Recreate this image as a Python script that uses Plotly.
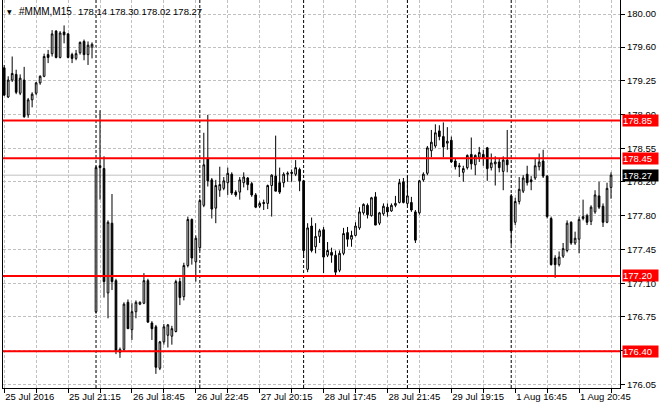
import plotly.graph_objects as go

# 3M (#MMM) M15 bars, 25 Jul 2016 17:15 .. 1 Aug 2016 22:45
opens = [179.41, 179.10, 179.28, 179.34, 179.14, 179.28, 178.91, 179.07, 179.14, 179.25,
         179.32, 179.55, 179.56, 179.80, 179.52, 179.79, 179.77, 179.55, 179.51, 179.57,
         179.69, 179.55, 179.63, 176.82, 178.37, 178.34, 177.02, 177.76, 177.15, 176.39,
         176.42, 176.92, 176.63, 176.82, 176.90, 176.91, 177.15, 176.70, 176.66, 176.22,
         176.50, 176.57, 176.56, 176.61, 177.14, 176.98, 177.31, 177.80, 177.35, 177.50,
         177.95, 178.45, 178.22, 177.92, 178.11, 178.13, 178.19, 178.28, 178.09, 178.09,
         178.19, 178.24, 178.18, 178.06, 177.94, 177.98, 177.97, 178.16, 178.26, 178.19,
         178.19, 178.28, 178.30, 178.28, 178.33, 178.21, 177.27, 177.73, 177.51, 177.62,
         177.69, 177.42, 177.45, 177.42, 177.26, 177.44, 177.66, 177.59, 177.63, 177.71,
         177.87, 177.95, 177.84, 178.04, 177.76, 177.86, 177.93, 177.89, 177.95, 177.98,
         178.20, 177.97, 177.98, 177.88, 177.87, 178.22, 178.29, 178.53, 178.58, 178.74,
         178.68, 178.61, 178.64, 178.42, 178.37, 178.30, 178.35, 178.49, 178.38, 178.46,
         178.49, 178.56, 178.35, 178.39, 178.41, 178.31, 178.43, 178.05, 177.77, 177.99,
         178.10, 178.28, 178.22, 178.24, 178.36, 178.42, 178.26, 177.81, 177.39, 177.32,
         177.41, 177.47, 177.77, 177.55, 177.59, 177.81, 177.84, 177.78, 177.88, 178.05,
         177.94, 177.77, 178.14]
highs = [179.44, 179.32, 179.53, 179.39, 179.34, 179.42, 179.09, 179.15, 179.26, 179.33,
         179.56, 179.60, 179.81, 179.81, 179.80, 179.86, 179.78, 179.57, 179.60, 179.69,
         179.71, 179.69, 179.68, 178.37, 178.96, 178.47, 177.79, 178.07, 177.17, 176.44,
         176.92, 176.95, 176.91, 176.94, 176.93, 177.23, 177.17, 176.72, 176.68, 176.51,
         176.69, 176.69, 176.67, 177.16, 177.18, 177.34, 177.83, 177.81, 177.63, 178.02,
         178.72, 178.91, 178.24, 178.22, 178.36, 178.25, 178.35, 178.30, 178.11, 178.25,
         178.30, 178.25, 178.20, 178.08, 177.99, 178.01, 178.17, 178.28, 178.69, 178.35,
         178.30, 178.31, 178.33, 178.43, 178.35, 178.22, 177.76, 177.82, 177.76, 177.70,
         177.72, 177.56, 177.50, 177.47, 177.47, 177.71, 177.72, 177.68, 177.77, 177.93,
         177.97, 177.97, 178.04, 178.09, 177.88, 177.97, 177.97, 177.97, 178.05, 178.23,
         178.24, 178.26, 178.04, 177.90, 178.22, 178.30, 178.58, 178.75, 178.81, 178.80,
         178.83, 178.78, 178.68, 178.45, 178.40, 178.37, 178.49, 178.67, 178.49, 178.57,
         178.54, 178.57, 178.50, 178.47, 178.45, 178.47, 178.75, 178.07, 178.03, 178.25,
         178.27, 178.37, 178.26, 178.45, 178.50, 178.54, 178.27, 177.83, 177.42, 177.46,
         177.55, 177.79, 177.78, 177.67, 177.83, 178.01, 177.86, 177.95, 178.11, 178.20,
         177.97, 178.19, 178.30]
lows = [179.11, 179.09, 179.26, 179.13, 179.12, 178.88, 178.88, 178.99, 179.12, 179.23,
        179.31, 179.46, 179.53, 179.51, 179.51, 179.67, 179.51, 179.46, 179.49, 179.55,
        179.49, 179.44, 179.51, 176.80, 178.01, 176.97, 176.75, 177.05, 176.37, 176.33,
        176.41, 176.64, 176.52, 176.75, 176.89, 176.90, 176.70, 176.52, 176.16, 176.20,
        176.47, 176.44, 176.47, 176.60, 176.89, 176.94, 177.29, 177.32, 177.14, 177.47,
        177.93, 178.15, 177.81, 177.76, 178.04, 178.11, 178.06, 178.06, 178.04, 178.01,
        178.14, 178.11, 178.04, 177.92, 177.92, 177.90, 177.91, 177.83, 178.10, 178.07,
        178.14, 178.20, 178.20, 178.26, 178.10, 177.39, 177.24, 177.45, 177.44, 177.55,
        177.23, 177.40, 177.34, 177.21, 177.24, 177.42, 177.51, 177.51, 177.62, 177.69,
        177.85, 177.81, 177.83, 177.74, 177.74, 177.84, 177.83, 177.88, 177.93, 177.97,
        177.97, 177.95, 177.88, 177.55, 177.85, 178.20, 178.27, 178.46, 178.56, 178.64,
        178.46, 178.54, 178.40, 178.33, 178.25, 178.20, 178.33, 178.33, 178.27, 178.41,
        178.37, 178.21, 178.32, 178.16, 178.30, 178.11, 178.30, 177.53, 177.74, 177.96,
        178.08, 178.16, 178.11, 178.22, 178.32, 178.24, 177.81, 177.31, 177.18, 177.30,
        177.39, 177.45, 177.53, 177.53, 177.44, 177.79, 177.74, 177.74, 177.86, 177.91,
        177.72, 177.76, 178.02]
closes = [179.12, 179.28, 179.35, 179.15, 179.30, 178.89, 179.07, 179.13, 179.25, 179.32,
          179.53, 179.52, 179.77, 179.52, 179.78, 179.76, 179.52, 179.51, 179.56, 179.68,
          179.55, 179.65, 179.66, 178.35, 178.35, 177.14, 177.77, 177.14, 176.41, 176.42,
          176.90, 176.64, 176.82, 176.92, 176.92, 177.15, 176.71, 176.64, 176.23, 176.50,
          176.66, 176.68, 176.64, 177.14, 176.97, 177.31, 177.80, 177.39, 177.60, 178.00,
          178.38, 178.21, 177.91, 178.16, 178.17, 178.21, 178.29, 178.08, 178.06, 178.22,
          178.25, 178.17, 178.06, 177.93, 177.97, 177.97, 178.16, 178.27, 178.10, 178.09,
          178.28, 178.29, 178.29, 178.35, 178.21, 177.47, 177.71, 177.47, 177.62, 177.68,
          177.40, 177.47, 177.42, 177.24, 177.44, 177.65, 177.59, 177.63, 177.73, 177.88,
          177.96, 177.85, 178.03, 177.74, 177.87, 177.94, 177.88, 177.95, 177.97, 178.19,
          177.98, 178.05, 177.90, 177.58, 178.21, 178.28, 178.56, 178.62, 178.72, 178.68,
          178.57, 178.63, 178.41, 178.36, 178.36, 178.34, 178.48, 178.39, 178.48, 178.51,
          178.45, 178.34, 178.40, 178.41, 178.35, 178.43, 178.38, 177.68, 177.99, 178.12,
          178.24, 178.19, 178.20, 178.37, 178.41, 178.26, 177.83, 177.32, 177.32, 177.40,
          177.49, 177.76, 177.55, 177.60, 177.80, 177.83, 177.77, 177.93, 178.06, 177.93,
          177.77, 178.13, 178.27]

# x axis: every 8th bar gets a grid line, every 16th a label
x_grid_bars = list(range(0, 153, 8))
x_label_text = ["25 Jul 2016", "25 Jul 21:15", "26 Jul 18:45", "26 Jul 22:45", "27 Jul 20:15",
                "28 Jul 17:45", "28 Jul 21:45", "29 Jul 19:15", "1 Aug 16:45", "1 Aug 20:45"]
day_starts = [23, 49, 75, 101, 127]

# price scale
y_ticks = [176.05, 176.41, 176.77, 177.12, 177.48, 177.84, 178.20, 178.55, 178.91, 179.27, 179.63, 179.98]
y_tick_text = ["176.05", "176.40", "176.75", "177.10", "177.45", "177.80", "178.20", "178.55",
               "178.90", "179.25", "179.60", "180.00"]
levels = [178.85, 178.45, 177.20, 176.40]
last_price = 178.27

x = list(range(len(opens)))
x_ticktext = []
for i in x_grid_bars:
    x_ticktext.append(x_label_text[i // 16] if i % 16 == 0 else "")

FONT = "Liberation Sans"

fig = go.Figure(go.Candlestick(
    x=x, open=opens, high=highs, low=lows, close=closes,
    increasing=dict(line=dict(color="black", width=1), fillcolor="white"),
    decreasing=dict(line=dict(color="black", width=1), fillcolor="black"),
    whiskerwidth=0, hoverinfo="skip", showlegend=False,
))

shapes = []
# last price line
shapes.append(dict(type="line", xref="paper", x0=0, x1=1, y0=last_price, y1=last_price,
                   line=dict(color="#c0c0c0", width=1), layer="below"))
# day separators
for d in day_starts:
    shapes.append(dict(type="line", xref="x", yref="paper", x0=d, x1=d, y0=0, y1=1,
                       line=dict(color="black", width=1, dash="3px,2px"), layer="below"))
# support / resistance levels
for lv in levels:
    shapes.append(dict(type="line", xref="paper", x0=0, x1=1, y0=lv, y1=lv,
                       line=dict(color="#ff0000", width=2), layer="above"))
fig.update_layout(shapes=shapes)

annotations = []
for lv in levels:
    annotations.append(dict(xref="paper", x=1, xanchor="left", xshift=1.5, y=lv, yref="y",
                            yanchor="middle", text=f"{lv:.2f}", showarrow=False,
                            bgcolor="#ff0000", width=35, height=11, align="left", borderpad=0,
                            font=dict(family=FONT, size=9.5, color="white")))
annotations.append(dict(xref="paper", x=1, xanchor="left", xshift=1.5, y=last_price, yref="y",
                        yanchor="middle", text=f"{last_price:.2f}", showarrow=False,
                        bgcolor="black", width=35, height=11, align="left", borderpad=0,
                        font=dict(family=FONT, size=9.5, color="white")))
# header: symbol and last bar OHLC
annotations.append(dict(xref="paper", yref="paper", x=(5 - 2.5) / 618, y=(388 - 11) / 388,
                        xanchor="left", yanchor="middle", text="▼", showarrow=False,
                        font=dict(family="DejaVu Sans", size=6, color="black")))
annotations.append(dict(xref="paper", yref="paper", x=(17 - 2.5) / 618, y=(388 - 11) / 388,
                        xanchor="left", yanchor="middle", text="#MMM,M15", showarrow=False,
                        font=dict(family=FONT, size=10, color="black")))
annotations.append(dict(xref="paper", yref="paper", x=(76 - 2.5) / 618, y=(388 - 11) / 388,
                        xanchor="left", yanchor="middle",
                        text=f"{opens[-1]:.2f} {highs[-1]:.2f} {lows[-1]:.2f} {closes[-1]:.2f}",
                        showarrow=False, font=dict(family=FONT, size=9.5, color="black")))

fig.update_layout(
    annotations=annotations,
    width=660, height=410,
    margin=dict(l=2.5, r=39.5, t=0, b=22),
    paper_bgcolor="white", plot_bgcolor="white",
    boxgap=0.4,
    showlegend=False,
    font=dict(family=FONT, size=9.5, color="black"),
    xaxis=dict(
        type="linear", range=[-0.3, 154.25], rangeslider=dict(visible=False),
        tickmode="array", tickvals=x_grid_bars, ticktext=x_ticktext,
        ticks="outside", ticklen=4, tickcolor="black", ticklabelposition="outside right",
        showgrid=True, gridcolor="#c0c0c0", griddash="3px,2px", gridwidth=1,
        showline=True, linecolor="black", linewidth=1, mirror=True,
        zeroline=False, tickfont=dict(family=FONT, size=9.5, color="black"),
    ),
    yaxis=dict(
        side="right", range=[176.01, 180.13],
        tickmode="array", tickvals=y_ticks, ticktext=y_tick_text,
        ticks="outside", ticklen=4, tickcolor="black",
        showgrid=True, gridcolor="#c0c0c0", griddash="3px,2px", gridwidth=1,
        showline=True, linecolor="black", linewidth=1, mirror=True,
        zeroline=False, tickfont=dict(family=FONT, size=9.5, color="black"),
    ),
)

# the page's default body margin would shift the 660x410 figure
fig.write_html("out.html", config={"displayModeBar": False},
               post_script="document.body.style.margin='0';")
